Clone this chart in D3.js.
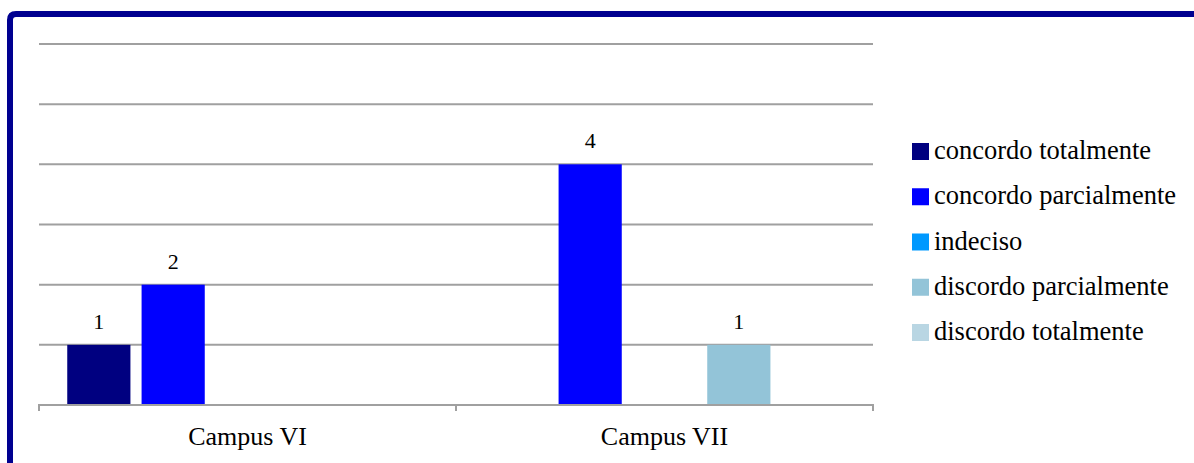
<!DOCTYPE html>
<html>
<head>
<meta charset="utf-8">
<script src="https://cdn.jsdelivr.net/npm/d3@7"></script>
<style>
html,body{margin:0;padding:0;background:#fff;}
svg{display:block;}
text{font-family:"Liberation Serif","Times New Roman",Times,serif;}
</style>
</head>
<body>
<svg id="chart" width="1194" height="463"></svg>
<script>
const categories = ["Campus VI", "Campus VII"];
const seriesNames = ["concordo totalmente", "concordo parcialmente", "indeciso", "discordo parcialmente", "discordo totalmente"];
const seriesColors = ["#000080", "#0000FF", "#0099FF", "#93C4D8", "#B9D6E3"];
const campusVI = [1, 2, 0, 0, 0];
const campusVII = [0, 4, 0, 1, 0];
const yTicks = [0, 1, 2, 3, 4, 5, 6];

const values = [campusVI, campusVII];
const svg = d3.select("#chart");

// frame
svg.append("path")
  .attr("d", "M10,463 L10,20 Q10,14 16,14 L1194,14")
  .attr("fill", "none").attr("stroke", "#000090").attr("stroke-width", 6);

const x0 = d3.scaleBand().domain(categories).range([39, 873]).padding(0);
const x1 = d3.scaleBand().domain(seriesNames).range([0, x0.bandwidth()])
  .paddingInner(0.15).paddingOuter(0.38);
const y = d3.scaleLinear().domain([0, 6]).range([405, 44]);

// gridlines
svg.append("g").selectAll("line").data(yTicks.filter(d => d > 0)).join("line")
  .attr("x1", 39).attr("x2", 873)
  .attr("y1", d => y(d)).attr("y2", d => y(d))
  .attr("stroke", "#a0a0a0").attr("stroke-width", 2);

// bars
const groups = svg.append("g").selectAll("g").data(categories).join("g")
  .attr("transform", d => `translate(${x0(d)},0)`);
groups.each(function(cat, ci) {
  const g = d3.select(this);
  const data = seriesNames.map((s, i) => ({s, v: values[ci][i], c: seriesColors[i]})).filter(d => d.v > 0);
  g.selectAll("rect").data(data).join("rect")
    .attr("x", d => x1(d.s)).attr("width", x1.bandwidth())
    .attr("y", d => y(d.v)).attr("height", d => y(0) - y(d.v))
    .attr("fill", d => d.c);
  g.selectAll("text").data(data).join("text")
    .attr("x", d => x1(d.s) + x1.bandwidth() / 2)
    .attr("y", d => y(d.v) - 16)
    .attr("text-anchor", "middle")
    .attr("font-size", 22)
    .text(d => d.v);
});

// x axis
svg.append("line").attr("x1", 38).attr("x2", 874).attr("y1", y(0)).attr("y2", y(0))
  .attr("stroke", "#a0a0a0").attr("stroke-width", 2);
svg.append("g").selectAll("line").data(categories.map(c => x0(c)).concat([x0.range()[1]])).join("line")
  .attr("x1", d => d).attr("x2", d => d).attr("y1", y(0)).attr("y2", y(0) + 6)
  .attr("stroke", "#a0a0a0").attr("stroke-width", 2);
svg.append("g").selectAll("text").data(categories).join("text")
  .attr("x", d => x0(d) + x0.bandwidth() / 2).attr("y", 445)
  .attr("text-anchor", "middle")
  .attr("font-size", 26)
  .text(d => d);

// legend
const legend = svg.append("g").selectAll("g").data(seriesNames).join("g")
  .attr("transform", (d, i) => `translate(912,${143 + i * 45.25})`);
legend.append("rect").attr("width", 17).attr("height", 17).attr("fill", (d, i) => seriesColors[i]);
legend.append("text").attr("x", 22).attr("y", 16)
  .attr("font-size", 26.5)
  .text(d => d);
</script>
</body>
</html>
